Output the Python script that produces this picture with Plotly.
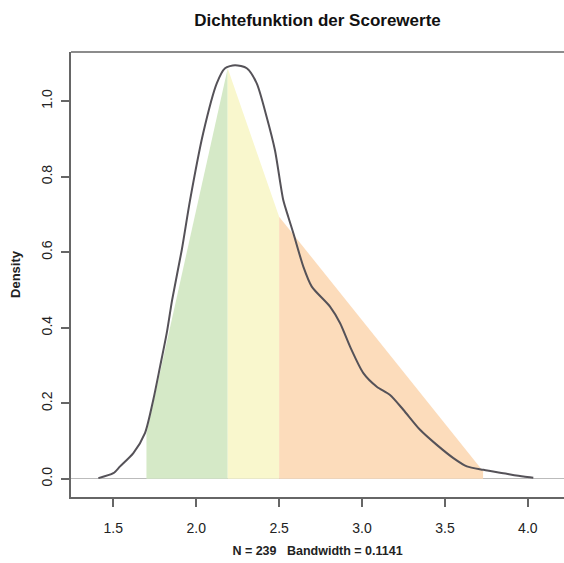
import plotly.graph_objects as go

# Density curve
density_x = [1.41, 1.50, 1.541, 1.621, 1.691, 1.741, 1.782, 1.822, 1.855, 1.913, 1.963,
             2.042, 2.124, 2.174, 2.234, 2.305, 2.365, 2.425, 2.475, 2.525, 2.555, 2.586,
             2.646, 2.697, 2.807, 2.868, 2.928, 3.008, 3.089, 3.169, 3.249, 3.35, 3.451,
             3.551, 3.632, 3.732, 3.852, 3.973, 4.033]
density_y = [0.002, 0.015, 0.033, 0.068, 0.121, 0.209, 0.297, 0.385, 0.474, 0.606, 0.738,
             0.915, 1.047, 1.087, 1.095, 1.087, 1.047, 0.958, 0.870, 0.738, 0.694, 0.650,
             0.562, 0.509, 0.456, 0.412, 0.350, 0.280, 0.244, 0.222, 0.183, 0.130, 0.090,
             0.055, 0.033, 0.024, 0.015, 0.006, 0.003]

# Shaded regions (polygon vertices)
green_x = [1.70, 1.70, 2.19, 2.19]
green_y = [0.0, 0.12, 1.087, 0.0]
yellow_x = [2.19, 2.19, 2.50, 2.50]
yellow_y = [0.0, 1.087, 0.694, 0.0]
orange_x = [2.50, 2.50, 3.73, 3.73]
orange_y = [0.0, 0.694, 0.02, 0.0]

x_ticks = [1.5, 2.0, 2.5, 3.0, 3.5, 4.0]
x_ticklabels = ["1.5", "2.0", "2.5", "3.0", "3.5", "4.0"]
y_ticks = [0.0, 0.2, 0.4, 0.6, 0.8, 1.0]
y_ticklabels = ["0.0", "0.2", "0.4", "0.6", "0.8", "1.0"]

title_text = "Dichtefunktion der Scorewerte"
x_title = "N = 239   Bandwidth = 0.1141"
y_title = "Density"

FONT = "Liberation Sans, Arial, sans-serif"

fig = go.Figure()
for xs, ys, col in [(green_x, green_y, "#d5e9c7"),
                    (yellow_x, yellow_y, "#f9f7cd"),
                    (orange_x, orange_y, "#fcdcbb")]:
    fig.add_trace(go.Scatter(x=xs, y=ys, mode="lines", fill="toself",
                             fillcolor=col, line=dict(width=0), hoverinfo="skip",
                             showlegend=False))

fig.add_trace(go.Scatter(x=density_x, y=density_y, mode="lines",
                         line=dict(color="#555258", width=2, shape="spline", smoothing=0.7),
                         showlegend=False))

fig.update_layout(
    width=564, height=563,
    margin=dict(l=71, r=0, t=52, b=66),
    paper_bgcolor="white", plot_bgcolor="white",
    font=dict(family=FONT, color="#222222"),
    title=dict(text="<b>" + title_text + "</b>", x=(71 + 564) / 2 / 564, xanchor="center",
               y=1 - 20 / 563, yanchor="middle", font=dict(size=17, color="#111111")),
    showlegend=False,
)
fig.update_xaxes(
    range=[1.245, 4.218], tickvals=x_ticks, ticktext=x_ticklabels, automargin=False,
    showgrid=False, zeroline=False,
    showline=True, linecolor="#666666", linewidth=1.5,
    ticks="outside", ticklen=8, tickcolor="#666666", tickwidth=1.5,
    tickfont=dict(size=14, color="#222222"), ticklabelstandoff=9,
    title=dict(text="<b>" + x_title + "</b>", font=dict(size=12.5, color="#222222"), standoff=12),
)
fig.update_yaxes(
    range=[-0.048, 1.13], tickvals=y_ticks, ticktext=y_ticklabels, automargin=False,
    showgrid=False, zeroline=True, zerolinecolor="#bbbbbb", zerolinewidth=1,
    showline=True, linecolor="#666666", linewidth=1.5,
    ticks="outside", ticklen=8, tickcolor="#666666", tickwidth=1.5, tickangle=-90,
    tickfont=dict(size=14, color="#222222"), ticklabelstandoff=4,
    title=dict(text="<b>" + y_title + "</b>", font=dict(size=13, color="#222222"), standoff=15),
)
fig.add_shape(type="line", xref="paper", yref="paper", x0=0, x1=1, y0=1, y1=1,
              line=dict(color="#666666", width=1.5))

fig.write_html(
    "out.html",
    config={"displayModeBar": False},
    post_script=("document.body.style.margin='0';"
                 "document.body.style.overflow='hidden';"
                 "document.documentElement.style.overflow='hidden';"),
)
